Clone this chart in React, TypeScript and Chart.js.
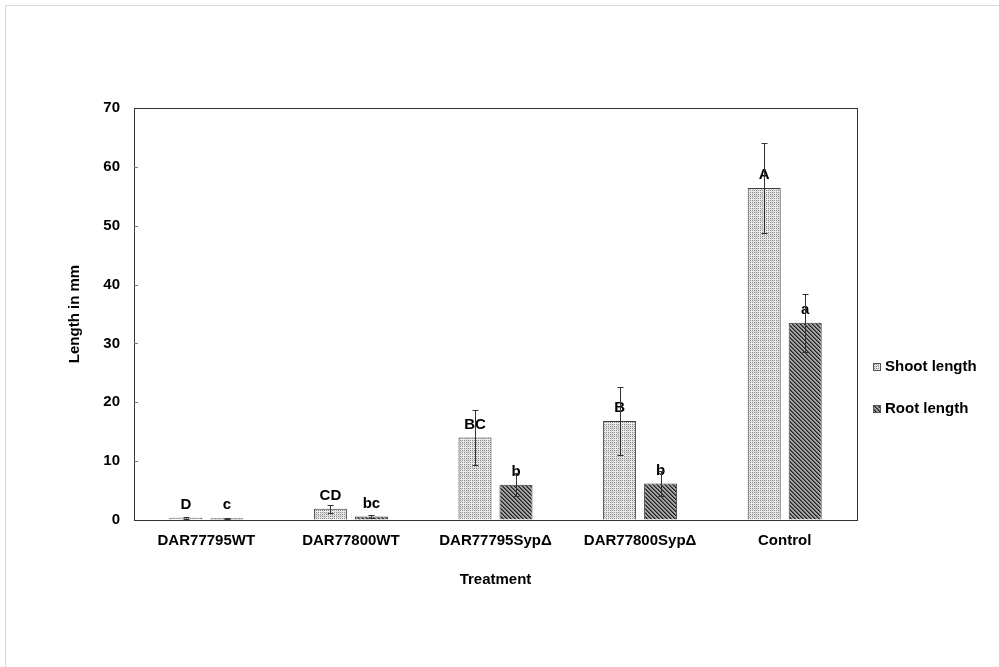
import React, { useEffect, useRef } from "react";
import { Chart, registerables } from "chart.js";

Chart.register(...registerables);

const categories = ["DAR77795WT", "DAR77800WT", "DAR77795SypΔ", "DAR77800SypΔ", "Control"];
const shootLength = [0.4, 1.9, 14.0, 16.8, 56.4];
const shootError = [0.15, 0.7, 4.7, 5.8, 7.6];
const shootLetters = ["D", "CD", "BC", "B", "A"];
const rootLength = [0.3, 0.6, 6.0, 6.2, 33.5];
const rootError = [0.1, 0.2, 2.0, 2.2, 4.9];
const rootLetters = ["c", "bc", "b", "b", "a"];
const seriesNames = ["Shoot length", "Root length"];
const yMin = 0;
const yMax = 70;
const yStep = 10;

const FONT = "'Liberation Sans', Arial, Helvetica, sans-serif";

function makeTile(size: number, paint: (x: number, y: number) => [number, number, number]) {
  const c = document.createElement("canvas");
  c.width = size;
  c.height = size;
  const g = c.getContext("2d")!;
  const img = g.createImageData(size, size);
  for (let y = 0; y < size; y++) {
    for (let x = 0; x < size; x++) {
      const [r, gg, b] = paint(x, y);
      const i = (y * size + x) * 4;
      img.data[i] = r;
      img.data[i + 1] = gg;
      img.data[i + 2] = b;
      img.data[i + 3] = 255;
    }
  }
  g.putImageData(img, 0, 0);
  return c;
}

function dottedPattern(ctx: CanvasRenderingContext2D) {
  const tile = makeTile(8, (x, y) => {
    if (x % 2 === 0 && y % 2 === 0) return [140, 140, 140];
    if (x % 4 === 1 && y % 4 === 1) return [190, 190, 190];
    if (x % 8 === 3 || y % 8 === 3) return [215, 215, 215];
    return [236, 236, 236];
  });
  return ctx.createPattern(tile, "repeat")!;
}

function hatchPattern(ctx: CanvasRenderingContext2D) {
  const tile = makeTile(4, (x, y) => {
    const d = (((x - y) % 4) + 4) % 4;
    if (d === 0) return [30, 30, 30];
    if (d === 1) return [90, 90, 90];
    return [165, 165, 165];
  });
  return ctx.createPattern(tile, "repeat")!;
}

const errorAndLetters = {
  id: "errorAndLetters",
  afterDatasetsDraw(chart: any) {
    const ctx = chart.ctx as CanvasRenderingContext2D;
    const yScale = chart.scales.y;
    const values = [shootLength, rootLength];
    const errors = [shootError, rootError];
    const letters = [shootLetters, rootLetters];
    ctx.save();
    // significance letters above each bar
    ctx.fillStyle = "#000";
    ctx.font = `bold 15px ${FONT}`;
    ctx.textAlign = "center";
    ctx.textBaseline = "middle";
    chart.data.datasets.forEach((_: any, di: number) => {
      const meta = chart.getDatasetMeta(di);
      meta.data.forEach((bar: any, i: number) => {
        ctx.fillText(letters[di][i], bar.x, bar.y - 13);
      });
    });
    // error bars
    ctx.strokeStyle = "#333";
    ctx.lineWidth = 1;
    chart.data.datasets.forEach((_: any, di: number) => {
      const meta = chart.getDatasetMeta(di);
      meta.data.forEach((bar: any, i: number) => {
        const v = values[di][i];
        const e = errors[di][i];
        const x = Math.round(bar.x) + 0.5;
        const yTop = Math.round(yScale.getPixelForValue(v + e)) + 0.5;
        const yBot = Math.round(yScale.getPixelForValue(Math.max(0, v - e))) + 0.5;
        ctx.beginPath();
        ctx.moveTo(x, yTop);
        ctx.lineTo(x, yBot);
        ctx.moveTo(x - 3, yTop);
        ctx.lineTo(x + 3, yTop);
        ctx.moveTo(x - 3, yBot);
        ctx.lineTo(x + 3, yBot);
        ctx.stroke();
      });
    });
    ctx.restore();
  },
  afterDraw(chart: any) {
    const ctx = chart.ctx as CanvasRenderingContext2D;
    const { left, right, top, bottom } = chart.chartArea;
    const yScale = chart.scales.y;
    ctx.save();
    // outer frame
    ctx.strokeStyle = "#d9d9d9";
    ctx.lineWidth = 1;
    ctx.strokeRect(5.5, 5.5, 1000, 700);
    // plot box
    ctx.strokeStyle = "#333";
    ctx.strokeRect(Math.round(left) + 0.5, Math.round(top) + 0.5, Math.round(right - left), Math.round(bottom - top));
    // inner y ticks
    ctx.strokeStyle = "#777";
    for (let v = yMin + yStep; v < yMax; v += yStep) {
      const y = Math.round(yScale.getPixelForValue(v)) + 0.5;
      ctx.beginPath();
      ctx.moveTo(left, y);
      ctx.lineTo(left + 4, y);
      ctx.stroke();
    }
    // legend
    const items = [
      { name: seriesNames[0], fill: chart.data.datasets[0].backgroundColor, y: 367 },
      { name: seriesNames[1], fill: chart.data.datasets[1].backgroundColor, y: 409 },
    ];
    ctx.font = `bold 15px ${FONT}`;
    ctx.textAlign = "left";
    ctx.textBaseline = "middle";
    items.forEach((it) => {
      ctx.fillStyle = it.fill;
      ctx.fillRect(873, it.y - 4, 8, 8);
      ctx.strokeStyle = "#555";
      ctx.strokeRect(873.5, it.y - 3.5, 7, 7);
      ctx.fillStyle = "#000";
      ctx.fillText(it.name, 885, it.y);
    });
    ctx.restore();
  },
};

export default function App() {
  const canvasRef = useRef<HTMLCanvasElement>(null);

  useEffect(() => {
    const canvas = canvasRef.current!;
    const ctx = canvas.getContext("2d")!;
    const chart = new Chart(ctx, {
      type: "bar",
      data: {
        labels: categories,
        datasets: [
          {
            label: seriesNames[0],
            data: shootLength,
            backgroundColor: dottedPattern(ctx) as any,
            borderColor: "#3a3a3a",
            borderWidth: 1,
            categoryPercentage: 0.567,
            barPercentage: 0.805,
          },
          {
            label: seriesNames[1],
            data: rootLength,
            backgroundColor: hatchPattern(ctx) as any,
            borderColor: "#3a3a3a",
            borderWidth: 1,
            categoryPercentage: 0.567,
            barPercentage: 0.805,
          },
        ],
      },
      options: {
        animation: false,
        responsive: true,
        maintainAspectRatio: false,
        layout: { padding: { left: 64, top: 108, right: 142, bottom: 77 } },
        plugins: {
          legend: { display: false },
          tooltip: { enabled: false },
        },
        scales: {
          x: {
            grid: { display: false, drawTicks: false },
            border: { display: false },
            ticks: {
              color: "#000",
              padding: 12,
              font: { family: FONT, size: 15, weight: "bold" },
              maxRotation: 0,
              autoSkip: false,
            },
            title: {
              display: true,
              text: "Treatment",
              color: "#000",
              font: { family: FONT, size: 15, weight: "bold" },
              padding: { top: 4, bottom: 1 },
            },
            afterFit: (s: any) => {
              s.height = 70;
            },
          },
          y: {
            min: yMin,
            max: yMax,
            grid: { drawOnChartArea: false, drawTicks: false },
            border: { display: false },
            ticks: {
              stepSize: yStep,
              color: "#000",
              padding: 14,
              font: { family: FONT, size: 15, weight: "bold" },
            },
            title: {
              display: true,
              text: "Length in mm",
              color: "#000",
              font: { family: FONT, size: 15, weight: "bold" },
              padding: { top: 2, bottom: 4 },
            },
            afterFit: (s: any) => {
              s.width = 70;
            },
          },
        },
      },
      plugins: [errorAndLetters],
    });
    return () => chart.destroy();
  }, []);

  return (
    <div style={{ position: "absolute", left: 0, top: 0, width: 999, height: 667, background: "#fff" }}>
      <canvas ref={canvasRef} />
    </div>
  );
}
